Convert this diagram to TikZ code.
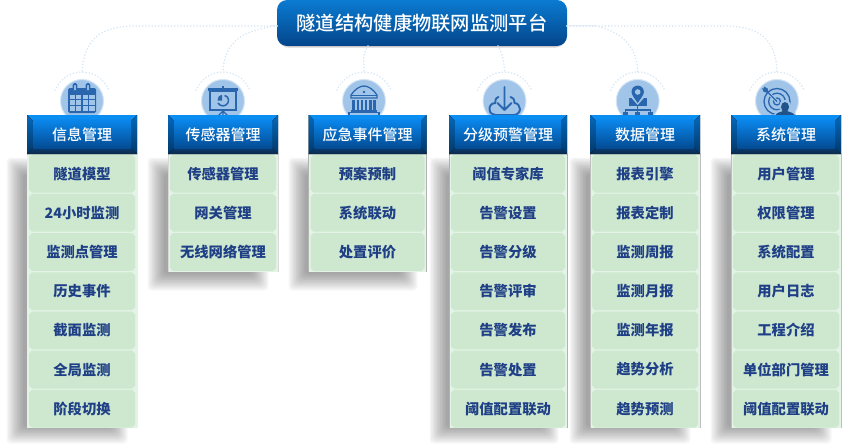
\documentclass[tikz,border=0pt]{standalone}
\usepackage{fontspec}
\setmainfont{Noto Sans CJK SC}
\newfontfamily\medcjk{Noto Sans CJK SC}[UprightFont={* Medium}]
\usetikzlibrary{shapes.misc}
\definecolor{iconblue}{HTML}{2A66AD}
\definecolor{iconlight}{HTML}{A1C5E9}
\definecolor{linkdot}{HTML}{D8E6F5}
\definecolor{cellgreen}{HTML}{CDE8CF}
\definecolor{cellpale}{HTML}{E3F3E5}
\definecolor{celltext}{HTML}{1F3F86}
\definecolor{titletop}{HTML}{0A7BD2}
\definecolor{titlebot}{HTML}{04458A}
\definecolor{headbright}{HTML}{0A8EF2}
\definecolor{sidetop}{HTML}{0569BC}
\definecolor{sidebot}{HTML}{023768}
\definecolor{lowtop}{HTML}{0A3A6E}
\definecolor{lowbot}{HTML}{0C2A4C}
\definecolor{facetop}{HTML}{0A88EE}
\definecolor{facebot}{HTML}{034C94}
\tikzset{
  connect/.style={draw=linkdot,line width=1.8pt,line cap=round,dash pattern=on 0pt off 3.2pt},
  stub/.style={draw=linkdot!80,line width=1pt},
  cellbox/.style={chamfered rectangle,chamfered rectangle xsep=1.5pt,chamfered rectangle ysep=1.5pt,fill=cellgreen,inner sep=0pt,minimum height=37.8pt,text=celltext,font=\bfseries\fontsize{14.3}{14.3}\selectfont},
  titlebox/.style={rectangle,rounded corners=10pt,minimum width=290pt,minimum height=46pt,inner sep=0pt,text=white,top color=titletop,bottom color=titlebot,font=\medcjk\fontsize{19.3}{19.3}\selectfont}
}
\newcommand{\softshadow}[4]{%
  \foreach \d in {-9,-7.5,-6,-4.5,-3,-1.5,0,1.5,3,4.5,6,7.5}{
    \fill[black,opacity=0.034,rounded corners=4pt] ({#1-\d},{#2-\d}) rectangle ({#3+\d},{#4+\d});
  }}
\newcommand{\tunnelhead}[4]{% name, x0, x1, text
  \pgfmathsetmacro{\xa}{#2}\pgfmathsetmacro{\xb}{#3}
  \fill[top color=headbright,bottom color=headbright] (\xa,115) -- (\xb,115) -- ({\xb-6},121) -- ({\xa+6},121) -- cycle;
  \fill[top color=sidetop,bottom color=sidebot] (\xa,115) -- ({\xa+6},121) -- ({\xa+6},148) -- (\xa,154) -- cycle;
  \fill[top color=sidetop,bottom color=sidebot] (\xb,115) -- ({\xb-6},121) -- ({\xb-6},148) -- (\xb,154) -- cycle;
  \fill[top color=lowtop,bottom color=lowbot] (\xa,154) -- ({\xa+6},148) -- ({\xb-6},148) -- (\xb,154) -- cycle;
  \path[top color=facetop,bottom color=facebot] ({\xa+6},119) rectangle ({\xb-6},148);
  \node[text=white,inner sep=0pt,font=\medcjk\fontsize{15}{15}\selectfont] (#1) at ({(\xa+\xb)/2},135) {#4};
}
\newcommand{\tunnelbody}[4]{% x0, x1, rows, border colour
  \pgfmathsetmacro{\xa}{#1}\pgfmathsetmacro{\xb}{#2}
  \pgfmathsetmacro{\rowsn}{#3}
  \fill[cellpale] (\xa,154) rectangle (\xb,{154+39.2*\rowsn});
  \draw[#4,line width=0.7pt] (\xa,154) -- (\xa,{154+39.2*\rowsn}) (\xb,154) -- (\xb,{154+39.2*\rowsn});
}
\newcommand{\roundbadge}[2]{% name, centre x
  \node[circle,fill=iconlight,draw=iconlight!45,line width=1pt,minimum size=43pt,inner sep=0pt] (#1) at (#2,101) {};
  \coordinate (#1top) at (#2,72);
  \draw[connect] ({#2-27},90) .. controls ({#2-16},66) and ({#2+16},66) .. ({#2+27},90);
}
\begin{document}
\begin{tikzpicture}[x=1pt,y=-1pt]
\useasboundingbox (0,0) rectangle (846,444);
% shadows
\softshadow{14}{165}{120}{436}
\softshadow{155}{165}{261}{283}
\softshadow{296}{165}{410}{283}
\softshadow{437}{165}{551}{436}
\softshadow{577}{165}{683}{436}
\softshadow{718}{165}{824}{436}
% title
\foreach \d in {0,0.7,1.4}{\fill[black,opacity=0.1,rounded corners=10pt] ({280-\d},10) rectangle ({564+\d},{46.5+\d});}
\node[titlebox] (title) at (422,23) {隧道结构健康物联网监测平台};
% badges
\roundbadge{b1}{82}
\roundbadge{b2}{223}
\roundbadge{b3}{364}
\roundbadge{b4}{504.5}
\roundbadge{b5}{637.7}
\roundbadge{b6}{777}
% connectors
\coordinate (tl) at (277,26);
\coordinate (tr) at (567,26);
\coordinate (t3) at (368,46);
\coordinate (t4) at (498,46);
\draw[connect] (tl) -- (135,26) .. controls (100,26) and (84,40) .. (b1top);
\draw[connect] (tl) .. controls (245,30) and (224,40) .. (b2top);
\draw[connect] (t3) .. controls (362,55) and (364,62) .. (b3top);
\draw[connect] (t4) .. controls (503,55) and (504,62) .. (b4top);
\draw[connect] (tr) -- (597,26) .. controls (620,32) and (637,45) .. (b5top);
\draw[connect] (tr) -- (725,26) .. controls (760,26) and (776,40) .. (b6top);
\draw[stub] (tr) -- (595,26);
\draw[stub] (tl) -- (270,26);
% bodies
\tunnelbody{27}{137}{7}{cellpale}
\tunnelbody{168}{278}{3}{gray!30}
\tunnelbody{308.5}{426.5}{3}{gray!60}
\tunnelbody{449}{567}{7}{gray!60}
\tunnelbody{590}{700}{7}{gray!50}
\tunnelbody{731}{841}{7}{gray!50}
% cells
\foreach \t [count=\i] in {隧道模型,24小时监测,监测点管理,历史事件,截面监测,全局监测,阶段切换}
  \node[cellbox,minimum width=106pt] (r1-\i) at (82,{154+39.2*(\i-0.5)}) {\t};
\foreach \t [count=\i] in {传感器管理,网关管理,无线网络管理}
  \node[cellbox,minimum width=106pt] (r2-\i) at (223,{154+39.2*(\i-0.5)}) {\t};
\foreach \t [count=\i] in {预案预制,系统联动,处置评价}
  \node[cellbox,minimum width=114pt] (r3-\i) at (367.5,{154+39.2*(\i-0.5)}) {\t};
\foreach \t [count=\i] in {阈值专家库,告警设置,告警分级,告警评审,告警发布,告警处置,阈值配置联动}
  \node[cellbox,minimum width=114pt] (r4-\i) at (508,{154+39.2*(\i-0.5)}) {\t};
\foreach \t [count=\i] in {报表引擎,报表定制,监测周报,监测月报,监测年报,趋势分析,趋势预测}
  \node[cellbox,minimum width=106pt] (r5-\i) at (645,{154+39.2*(\i-0.5)}) {\t};
\foreach \t [count=\i] in {用户管理,权限管理,系统配置,用户日志,工程介绍,单位部门管理,阈值配置联动}
  \node[cellbox,minimum width=106pt] (r6-\i) at (786,{154+39.2*(\i-0.5)}) {\t};
% calendar
\begin{scope}[shift={(82,101)}]
  \fill[iconblue,rounded corners=1.5pt] (-14,-13) rectangle (14,12);
  \foreach \rx in {-7,6}{\draw[iconblue,line width=1.6pt,fill=iconlight,rounded corners=1pt] ({\rx-1.6},-11) -- ({\rx-1.6},-17) -- ({\rx+1.6},-17) -- ({\rx+1.6},-11);}
  \foreach \cx in {-12.5,-5.9,0.7,7.3}\foreach \cy in {-6.5,-0.6,5.3}{\fill[iconlight] (\cx,\cy) rectangle ({\cx+5.2},{\cy+4.6});}
\end{scope}
% presentation
\begin{scope}[shift={(223,101)}]
  \fill[iconblue] (-15,-13) rectangle (15,-10);
  \fill[iconblue] (-0.8,-15) rectangle (0.8,-13);
  \draw[iconblue,line width=1.2pt] (-13,-10) rectangle (13,9);
  \draw[iconblue,line width=1.5pt] (1.5,-5.5) .. controls (5.5,-5) and (6.5,0) .. (4.5,2.5) .. controls (2,6) and (-3,5.5) .. (-5,2);
  \fill[iconblue] (-0.8,-0.5) -- (-0.8,-6) .. controls (-4,-6) and (-6,-3) .. (-5.5,-0.5) -- cycle;
  \draw[iconblue,line width=1.3pt] (0,9) -- (0,14) (0,10) -- (-5,15) (0,10) -- (5,15);
\end{scope}
% bank
\begin{scope}[shift={(364,101)}]
  \draw[iconblue,line width=1.3pt] (-13,-3) -- (-13,-6) .. controls (-9,-12) and (-4,-15) .. (0,-15) .. controls (4,-15) and (9,-12) .. (13,-6) -- (13,-3) -- cycle;
  \draw[iconblue,line width=1pt] (-13,-6) -- (13,-6);
  \fill[iconblue] (0,-9) circle (1.4);
  \foreach \bx in {-10.5,-6.3,-2.1,2.1,6.3,10.5}{\fill[iconblue] ({\bx-1.2},-1.5) rectangle ({\bx+1.2},9.5);}
  \draw[iconblue,line width=1.2pt] (-13,10) -- (13,10);
  \draw[iconblue,line width=1.2pt] (-15,15) rectangle (15,11.5);
\end{scope}
% cloud download
\begin{scope}[shift={(504.5,101)}]
  \draw[iconblue,line width=1.9pt,line cap=round,line join=round] (-6,-4) .. controls (-10,-3) and (-9,1) .. (-9,2) .. controls (-14,2) and (-15,6) .. (-15,8) .. controls (-15,12) and (-12,14) .. (-9,14) -- (9,14) .. controls (13,14) and (15.5,11) .. (15.5,8) .. controls (15.5,5) and (13,2) .. (10,2) .. controls (10,-2) and (8,-4) .. (6,-4);
  \draw[iconblue,line width=1.9pt,line cap=round,line join=round] (0,-14) -- (0,9) (-7,2) -- (0,9) -- (7,2);
\end{scope}
% map tree
\begin{scope}[shift={(637.7,101)}]
  \fill[iconblue] (-9,-3) -- (9,-3) -- (9,5) -- (-9,5) -- cycle;
  \fill[iconlight] (-7,-4) -- (0,4) -- (7,-4) -- cycle;
  \fill[iconblue] (-6.2,-9) .. controls (-6.2,-17.5) and (6.2,-17.5) .. (6.2,-9) .. controls (6.2,-6) and (2,-1) .. (0,2) .. controls (-2,-1) and (-6.2,-6) .. (-6.2,-9) -- cycle;
  \fill[iconlight] (0,-9) circle (2.8);
  \draw[iconblue,line width=1.1pt] (0,5) -- (0,11) (-12.5,11) -- (-12.5,9) -- (12.5,9) -- (12.5,11);
  \foreach \bx in {-12.5,0,12.5}{\fill[iconblue] ({\bx-2.6},10.5) rectangle ({\bx+2.6},15);}
\end{scope}
% target
\begin{scope}[shift={(777,101.5)}]
  \draw[iconblue,line width=1.3pt] (0,0) circle (3.5);
  \draw[iconblue,line width=1.3pt] (0,0) circle (8.3);
  \draw[iconblue,line width=1.3pt] (0,0) circle (13);
  \draw[iconlight,line width=3pt] (-8,-8) -- (-1,-1);
  \draw[iconblue,line width=1.4pt] (0,0) -- (-12,-12);
  \fill[iconblue] (-15,-13) -- (-10,-13.5) -- (-8.5,-9) -- (-13,-9.5) -- cycle;
  \fill[iconblue] (-13,-15) -- (-13.5,-10) -- (-9,-8.5) -- (-9.5,-13) -- cycle;
  \fill[iconlight] (-3.5,16) .. controls (-3,10) and (1,9) .. (3,8) .. controls (1,2) and (4,-1.5) .. (8,-1.5) .. controls (12,-1.5) and (15,2) .. (13,8) .. controls (16,9) and (19,10) .. (19.5,16) -- cycle;
  \fill[iconblue!80!black] (8,5.5) ellipse (4 and 5);
  \fill[iconblue!80!black] (-2,15) .. controls (-1.5,11) and (3,11) .. (6,9.5) -- (10,9.5) .. controls (13,11) and (17.5,11) .. (18,15) -- cycle;
\end{scope}
% headers
\tunnelhead{h1}{27}{137}{信息管理}
\tunnelhead{h2}{168}{278}{传感器管理}
\tunnelhead{h3}{308.5}{426.5}{应急事件管理}
\tunnelhead{h4}{449}{567}{分级预警管理}
\tunnelhead{h5}{590}{700}{数据管理}
\tunnelhead{h6}{731}{841}{系统管理}
\end{tikzpicture}
\end{document}
